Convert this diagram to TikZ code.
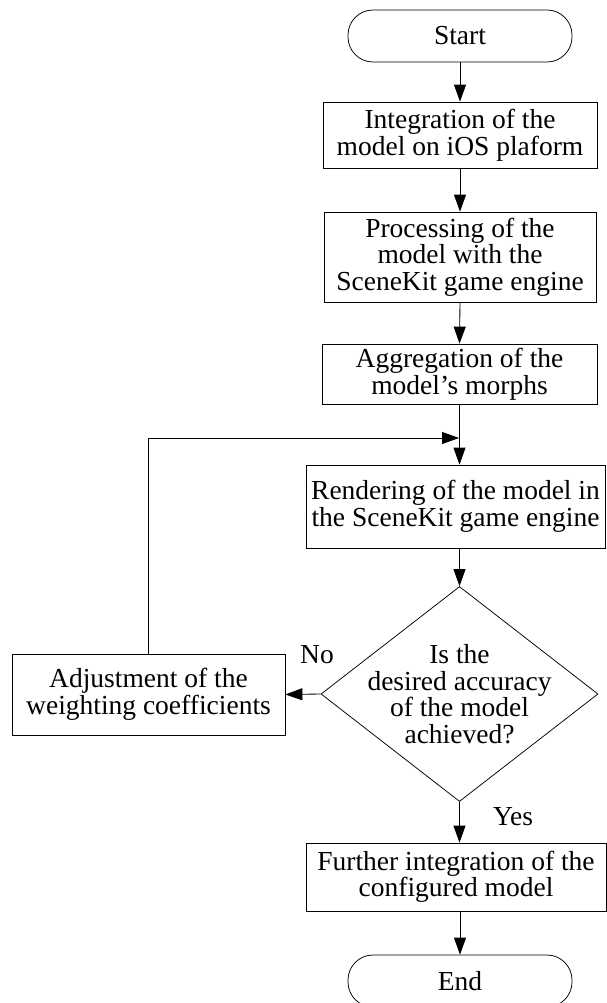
\documentclass[tikz,border=0pt]{standalone}
\usepackage{fontspec}
\setmainfont{Liberation Serif}
\usetikzlibrary{shapes.geometric,arrows.meta}
\begin{document}
\begin{tikzpicture}[x=1pt,y=-1pt,
  every node/.style={font=\fontsize{27.5}{26.5}\selectfont},
  box/.style={draw, line width=0.75pt, align=center, inner sep=0pt},
  term/.style={draw, line width=0.75pt, rounded corners=25pt, minimum width=224pt, minimum height=52pt, inner sep=0pt},
  dia/.style={draw, line width=0.75pt, diamond, minimum width=277pt, minimum height=215pt, inner sep=0pt},
  arr/.style={-{Triangle[length=17pt,width=12pt]}, line width=0.85pt},
  lbl/.style={inner sep=0pt}
]
\useasboundingbox (0,0) rectangle (606,1003);
\node[term] (start) at (460,36) {Start};
\node[box, minimum width=274pt, minimum height=66pt] (b1) at (460,135) {Integration of the\\model on iOS plaform};
\node[box, minimum width=272pt, minimum height=90pt] (b2) at (460,257) {Processing of the\\model with the\\SceneKit game engine};
\node[box, minimum width=275pt, minimum height=60pt] (b3) at (459.5,374) {Aggregation of the\\model's morphs};
\coordinate (join) at (459,438);
\node[box, minimum width=299pt, minimum height=83pt] (b4) at (455.5,506.5) {Rendering of the model in\\the SceneKit game engine};
\node[dia] (dec) at (459.5,694) {};
\node[align=center, inner sep=0pt] (dectext) at (dec.center) {Is the\\desired accuracy\\of the model\\achieved?};
\node[box, minimum width=273pt, minimum height=81pt] (adj) at (148.5,694.5) {Adjustment of the\\weighting coefficients};
\node[box, minimum width=300pt, minimum height=68pt] (b5) at (456,877) {Further integration of the\\configured model};
\node[term] (end) at (460,981) {End};
\node[lbl] (no) at (317,655) {No};
\node[lbl] (yes) at (513,817) {Yes};
\draw[arr] (start.south) -- (b1.north);
\draw[arr] (b1.south) -- (b2.north);
\draw[arr] (b2.south) -- (b3.north);
\draw[arr] (b3.south) -- (b3.south |- b4.north);
\draw[arr] (adj.north) |- (join);
\draw[arr] (dec.north |- b4.south) -- (dec.north);
\draw[arr] (dec.west) -- (adj.east);
\draw[arr] (dec.south) -- (dec.south |- b5.north);
\draw[arr] (end.north |- b5.south) -- (end.north);
\end{tikzpicture}
\end{document}
